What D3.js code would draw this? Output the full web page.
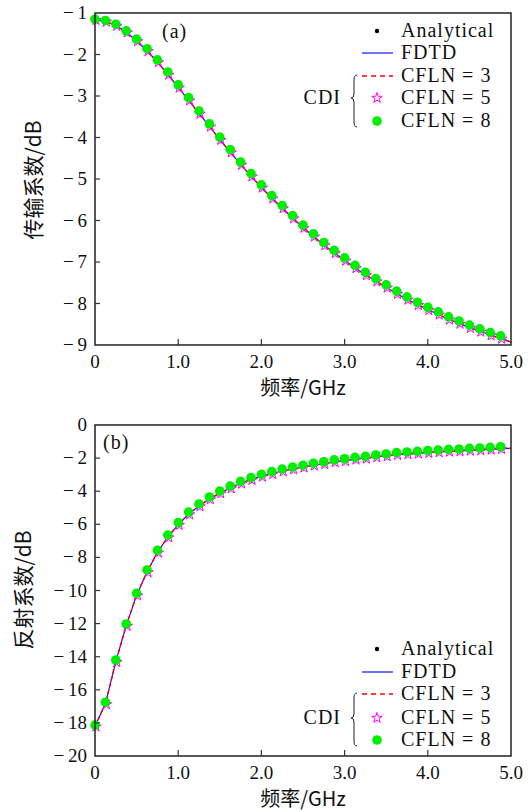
<!DOCTYPE html>
<html>
<head>
<meta charset="utf-8">
<script src="https://cdn.jsdelivr.net/npm/d3@7"></script>
<style>
    body { margin: 0; background: #fff; }
    text { font-family: "Liberation Serif", "DejaVu Serif", serif; fill: #111; }
    .cjk { font-family: "Noto Sans CJK SC", sans-serif; }
</style>
</head>
<body>
<script>
// frequency grid of the markers (GHz)
var freq = [0, 0.125, 0.25, 0.375, 0.5, 0.625, 0.75, 0.875, 1.0, 1.125, 1.25, 1.375, 1.5, 1.625, 1.75, 1.875,
    2.0, 2.125, 2.25, 2.375, 2.5, 2.625, 2.75, 2.875, 3.0, 3.125, 3.25, 3.375, 3.5, 3.625, 3.75, 3.875,
    4.0, 4.125, 4.25, 4.375, 4.5, 4.625, 4.75, 4.875];
// lines run to the right edge
var freqLine = freq.concat([5.0]);

// (a) transmission, dB
var transRef = [-1.16, -1.20, -1.30, -1.46, -1.67, -1.91, -2.18, -2.48, -2.79, -3.10, -3.42, -3.73, -4.05, -4.35,
    -4.65, -4.93, -5.20, -5.46, -5.70, -5.94, -6.17, -6.38, -6.59, -6.78, -6.96, -7.14, -7.31, -7.46, -7.61,
    -7.76, -7.90, -8.03, -8.15, -8.26, -8.38, -8.48, -8.58, -8.67, -8.76, -8.84, -8.93];
var transCfl8 = [-1.15, -1.18, -1.27, -1.43, -1.63, -1.86, -2.13, -2.42, -2.73, -3.04, -3.36, -3.67, -3.99, -4.29,
    -4.59, -4.87, -5.14, -5.40, -5.64, -5.88, -6.11, -6.32, -6.53, -6.72, -6.90, -7.08, -7.25, -7.40, -7.55,
    -7.70, -7.84, -7.97, -8.09, -8.20, -8.32, -8.42, -8.52, -8.61, -8.70, -8.78];

// (b) reflection, dB
var reflRef = [-18.20, -16.85, -14.30, -12.12, -10.28, -8.88, -7.69, -6.77, -6.02, -5.38, -4.89, -4.47, -4.11,
    -3.81, -3.52, -3.30, -3.10, -2.94, -2.78, -2.66, -2.55, -2.43, -2.34, -2.23, -2.16, -2.07, -2.01, -1.93,
    -1.87, -1.79, -1.75, -1.71, -1.67, -1.63, -1.59, -1.57, -1.53, -1.51, -1.47, -1.43, -1.41];
var reflCfl8 = [-18.13, -16.75, -14.20, -12.02, -10.17, -8.76, -7.57, -6.65, -5.90, -5.26, -4.77, -4.35, -3.99,
    -3.69, -3.40, -3.18, -2.98, -2.82, -2.66, -2.54, -2.43, -2.31, -2.22, -2.11, -2.04, -1.95, -1.89, -1.81,
    -1.75, -1.67, -1.63, -1.59, -1.55, -1.51, -1.47, -1.45, -1.41, -1.39, -1.35, -1.31];

var xTicks = [0, 1, 2, 3, 4, 5];
var xTickLabels = ["0", "1.0", "2.0", "3.0", "4.0", "5.0"];
var transTicks = [-1, -2, -3, -4, -5, -6, -7, -8, -9];
var reflTicks = [0, -2, -4, -6, -8, -10, -12, -14, -16, -18, -20];

var legendNames = ["Analytical", "FDTD", "CFLN = 3", "CFLN = 5", "CFLN = 8"];

var W = 532, H = 812;
var svg = d3.select("body").append("svg")
    .attr("width", W)
    .attr("height", H);

function minusLabel(v) {
    if (v === 0) return "0";
    return "\u2212\u2009" + Math.abs(v);
}

function drawPanel(opt) {
    var x = d3.scaleLinear().domain([0, 5]).range([95, 511]);
    var y = d3.scaleLinear().domain(opt.yDomain).range([opt.top, opt.bottom]);
    var g = svg.append("g");

    // ====== CURVES ======
    var line = d3.line()
        .x(function(d, i) { return x(freqLine[i]) })
        .y(function(d) { return y(d) });

    g.append("path").datum(opt.ref)
        .attr("d", line)
        .style("fill", "none")
        .style("stroke", "#1010ff")
        .style("stroke-width", 1.2);

    g.append("path").datum(opt.ref)
        .attr("d", line)
        .style("fill", "none")
        .style("stroke", "#ff0000")
        .style("stroke-width", 1.4)
        .style("stroke-dasharray", "4,3");

    var markers = opt.ref.slice(0, freq.length);

    g.selectAll(".ana").data(markers)
        .enter().append("circle")
            .attr("cx", function(d, i) { return x(freq[i]) })
            .attr("cy", function(d) { return y(d) })
            .attr("r", 2)
            .style("fill", "#000");

    var star = d3.symbol().type(d3.symbolStar).size(34);
    g.selectAll(".star").data(markers)
        .enter().append("path")
            .attr("d", star)
            .attr("transform", function(d, i) { return "translate(" + (x(freq[i]) + 1) + "," + (y(d) + 0.5) + ")" })
            .style("fill", "none")
            .style("stroke", "#ff00ff")
            .style("stroke-width", 1);

    g.selectAll(".dot8").data(opt.cfl8)
        .enter().append("circle")
            .attr("cx", function(d, i) { return x(freq[i]) })
            .attr("cy", function(d) { return y(d) })
            .attr("r", 4.8)
            .style("fill", "#00ee00");

    // ====== FRAME & TICKS ======
    g.append("rect")
        .attr("x", 95).attr("y", opt.top)
        .attr("width", 416).attr("height", opt.bottom - opt.top)
        .style("fill", "none")
        .style("stroke", "#222")
        .style("stroke-width", 1.5);

    g.selectAll(".xt").data(xTicks.slice(1, 5))
        .enter().append("line")
            .attr("x1", function(d) { return x(d) })
            .attr("x2", function(d) { return x(d) })
            .attr("y1", opt.bottom)
            .attr("y2", opt.bottom - 6)
            .style("stroke", "#333")
            .style("stroke-width", 1.2);

    g.selectAll(".xl").data(xTicks)
        .enter().append("text")
            .attr("x", function(d) { return x(d) })
            .attr("y", opt.bottom + 23)
            .attr("text-anchor", "middle")
            .style("font-size", "19px")
            .text(function(d, i) { return xTickLabels[i] });

    var inner = opt.ticks.slice(1, opt.ticks.length - 1);
    g.selectAll(".yt").data(inner)
        .enter().append("line")
            .attr("x1", 95)
            .attr("x2", 100)
            .attr("y1", function(d) { return y(d) })
            .attr("y2", function(d) { return y(d) })
            .style("stroke", "#333")
            .style("stroke-width", 1.2);

    g.selectAll(".yl").data(opt.ticks)
        .enter().append("text")
            .attr("x", 87)
            .attr("y", function(d) { return y(d) + 6 })
            .attr("text-anchor", "end")
            .style("font-size", "19px")
            .text(minusLabel);

    // ====== TITLES ======
    g.append("text")
        .attr("class", "cjk")
        .attr("x", 303)
        .attr("y", opt.bottom + 50)
        .attr("text-anchor", "middle")
        .style("font-size", "20px")
        .text("频率/GHz");

    g.append("text")
        .attr("class", "cjk")
        .attr("transform", "translate(" + opt.yLabelX + "," + opt.yLabelY + ") rotate(-90)")
        .attr("text-anchor", "middle")
        .style("font-size", "21px")
        .text(opt.yLabel);

    g.append("text")
        .attr("x", opt.tagX)
        .attr("y", opt.tagY)
        .style("font-size", "20px")
        .style("letter-spacing", "1px")
        .text(opt.tag);

    // ====== LEGEND ======
    var ly = opt.legendY;
    var lg = svg.append("g");
    lg.selectAll(".ln").data(legendNames)
        .enter().append("text")
            .attr("x", 401)
            .attr("y", function(d, i) { return ly[i] + 6 })
            .style("font-size", "20px")
            .style("letter-spacing", "1px")
            .text(function(d) { return d });

    lg.append("circle").attr("cx", 377).attr("cy", ly[0]).attr("r", 2.2).style("fill", "#000");
    lg.append("line").attr("x1", 362).attr("x2", 393).attr("y1", ly[1]).attr("y2", ly[1])
        .style("stroke", "#1010ff").style("stroke-width", 1.2);
    lg.append("line").attr("x1", 362).attr("x2", 393).attr("y1", ly[2]).attr("y2", ly[2])
        .style("stroke", "#ff0000").style("stroke-width", 1.3).style("stroke-dasharray", "5,4");
    lg.append("path").attr("d", star).attr("transform", "translate(377," + ly[3] + ")")
        .style("fill", "none").style("stroke", "#ff00ff").style("stroke-width", 1);
    lg.append("circle").attr("cx", 377).attr("cy", ly[4]).attr("r", 4.8).style("fill", "#00ee00");

    lg.append("text")
        .attr("x", 341)
        .attr("y", ly[3] + 6)
        .attr("text-anchor", "end")
        .style("font-size", "20px")
        .style("letter-spacing", "1px")
        .text("CDI");

    // curly brace
    var bx = 354, bt = ly[2] - 1, bb = ly[4] + 6, bm = ly[3];
    var brace = "M" + (bx + 3) + "," + bt + " Q" + bx + "," + bt + " " + bx + "," + (bt + 5) +
        " L" + bx + "," + (bm - 4) + " Q" + bx + "," + bm + " " + (bx - 3) + "," + bm +
        " Q" + bx + "," + bm + " " + bx + "," + (bm + 4) +
        " L" + bx + "," + (bb - 5) + " Q" + bx + "," + bb + " " + (bx + 3) + "," + bb;
    lg.append("path").attr("d", brace)
        .style("fill", "none").style("stroke", "#222").style("stroke-width", 1);
}

drawPanel({
    yDomain: [-1, -9], top: 13, bottom: 345,
    ref: transRef, cfl8: transCfl8, ticks: transTicks,
    yLabel: "传输系数/dB", yLabelX: 41, yLabelY: 180,
    tag: "(a)", tagX: 162, tagY: 38,
    legendY: [31, 53, 76, 98, 121]
});

drawPanel({
    yDomain: [0, -20], top: 425, bottom: 756,
    ref: reflRef, cfl8: reflCfl8, ticks: reflTicks,
    yLabel: "反射系数/dB", yLabelX: 31, yLabelY: 590,
    tag: "(b)", tagX: 103, tagY: 449,
    legendY: [649, 672, 694, 718, 740]
});
</script>
</body>
</html>
